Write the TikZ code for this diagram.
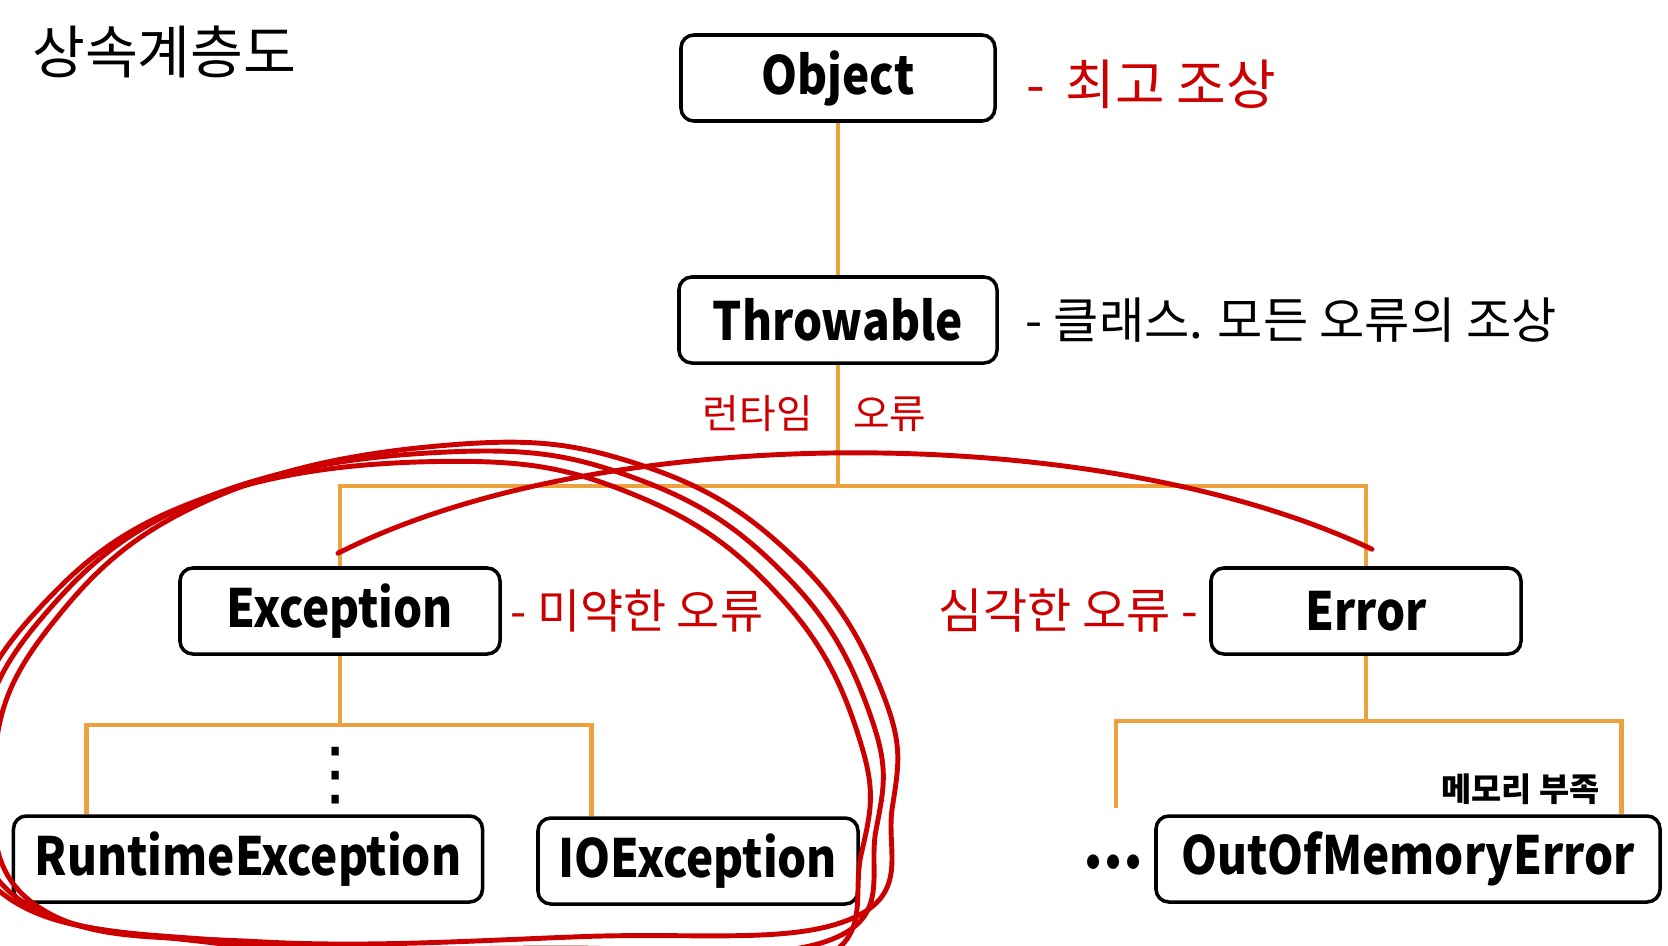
\documentclass[tikz,border=0pt]{standalone}
\usepackage{fontspec}
\newfontfamily\krfont{Noto Sans CJK KR}
\newfontfamily\boxfont[FakeStretch=0.87]{Noto Sans CJK KR}
\newfontfamily\symfont{DejaVu Sans}
\usetikzlibrary{positioning, calc}

\definecolor{linkorange}{RGB}{235,162,62}
\definecolor{handred}{RGB}{204,0,0}

\begin{document}
\begin{tikzpicture}[
  x=0.03cm, y=-0.03cm,
  cls/.style={rectangle, draw=black, line width=3pt, rounded corners=11pt,
              fill=white, minimum height=2.58cm, inner sep=0pt,
              font=\boxfont\bfseries\fontsize{45}{45}\selectfont},
  note/.style={inner sep=0pt, font=\krfont\fontsize{40}{40}\selectfont},
  rednote/.style={note, text=handred},
  link/.style={draw=linkorange, line width=4.2pt},
  hand/.style={draw=handred, line width=4.2pt, line cap=round, line join=round}
]
\useasboundingbox (0,0) rectangle (1668,946);

% class boxes
\node[cls, minimum width=9.42cm]  (obj) at (838,78)  {Object};
\node[cls, minimum width=9.54cm]  (thr) at (838,320) {Throwable};
\node[cls, minimum width=9.6cm]   (exc) at (340,611) {Exception};
\node[cls, minimum width=9.3cm]   (err) at (1366,611) {Error};
\node[cls, minimum width=14.07cm] (rte) at (248,859) {RuntimeException};
\node[cls, minimum width=9.6cm]   (ioe) at (698,861) {IOException};
\node[cls, minimum width=15.12cm] (oom) at (1408,859) {OutOfMemoryError};

% notes
\node[note, font=\krfont\fontsize{49}{49}\selectfont, anchor=west] (title) at (32,52) {상속계층도};
\node[rednote, font=\krfont\fontsize{46}{46}\selectfont, right=0.87cm of obj, yshift=-0.2cm] (objnote) {-\, 최고 조상};
\node[note, font=\krfont\fontsize{42}{42}\selectfont, right=0.8cm of thr] (thrnote) {- 클래스. 모든 오류의 조상};
\node[rednote, font=\krfont\fontsize{34}{34}\selectfont, anchor=east] (rtnote) at (813,414) {런타임};
\node[rednote, font=\krfont\fontsize{34}{34}\selectfont, anchor=west] (rtnote2) at (853,414) {오류};
\node[rednote, right=0.25cm of exc] (excnote) {- 미약한 오류};
\node[rednote, font=\krfont\fontsize{41}{41}\selectfont, left=0.33cm of err] (errnote) {심각한 오류 -};
\node[note, font=\krfont\bfseries\fontsize{28}{28}\selectfont, anchor=south east] (oomnote) at (1600,805) {메모리 부족};
\node[inner sep=0pt, font=\boxfont\bfseries\fontsize{56}{56}\selectfont, left=0.32cm of oom, yshift=-0.1cm] (more) {...};
\node[inner sep=0pt, font=\symfont\fontsize{60}{60}\selectfont] (vdots) at (336,776) {⋮};

% connectors
\coordinate (bar1) at (838,486);
\coordinate (bar2) at (340,725);
\coordinate (bar3) at (1366,721);
\coordinate (rtetop) at ($(rte.north west)+(75,0)$);
\coordinate (ioetop) at ($(ioe.north west)+(55,0)$);
\coordinate (moreend) at (1116,808);
\coordinate (oomtop) at ($(oom.north east)+(-40,0)$);

\draw[link] (obj) -- (thr);
\draw[link] (thr) -- (bar1);
\draw[link] (exc.north) |- (bar1) -| (err.north);
\draw[link] (exc) -- (bar2);
\draw[link] (rtetop) |- (bar2) -| (ioetop);
\draw[link] (err) -- (bar3);
\draw[link] (moreend) |- (bar3) -| (oomtop);

% hand drawn marks
\coordinate (arcL) at ($(exc.north)+(-2,-13)$);
\coordinate (arcR) at ($(err.north)+(6,-17)$);
\draw[hand] (arcL) .. controls (600,420) and (1100,420) .. (arcR);

\begin{scope}
  \clip (0,0) rectangle (1668,946);
  \foreach \dx/\dy/\r in {0/0/0, 12/-7/2, -10/9/-2}
    \draw[hand, shift={(\dx,\dy)}, rotate around={\r:(440,700)}]
      plot[smooth cycle, tension=0.7] coordinates {
        (447,452) (640,480) (790,580) (872,720) (876,830) (830,940)
        (560,948) (240,942) (20,900) (-20,760) (40,620) (200,500)};
\end{scope}
\end{tikzpicture}
\end{document}
